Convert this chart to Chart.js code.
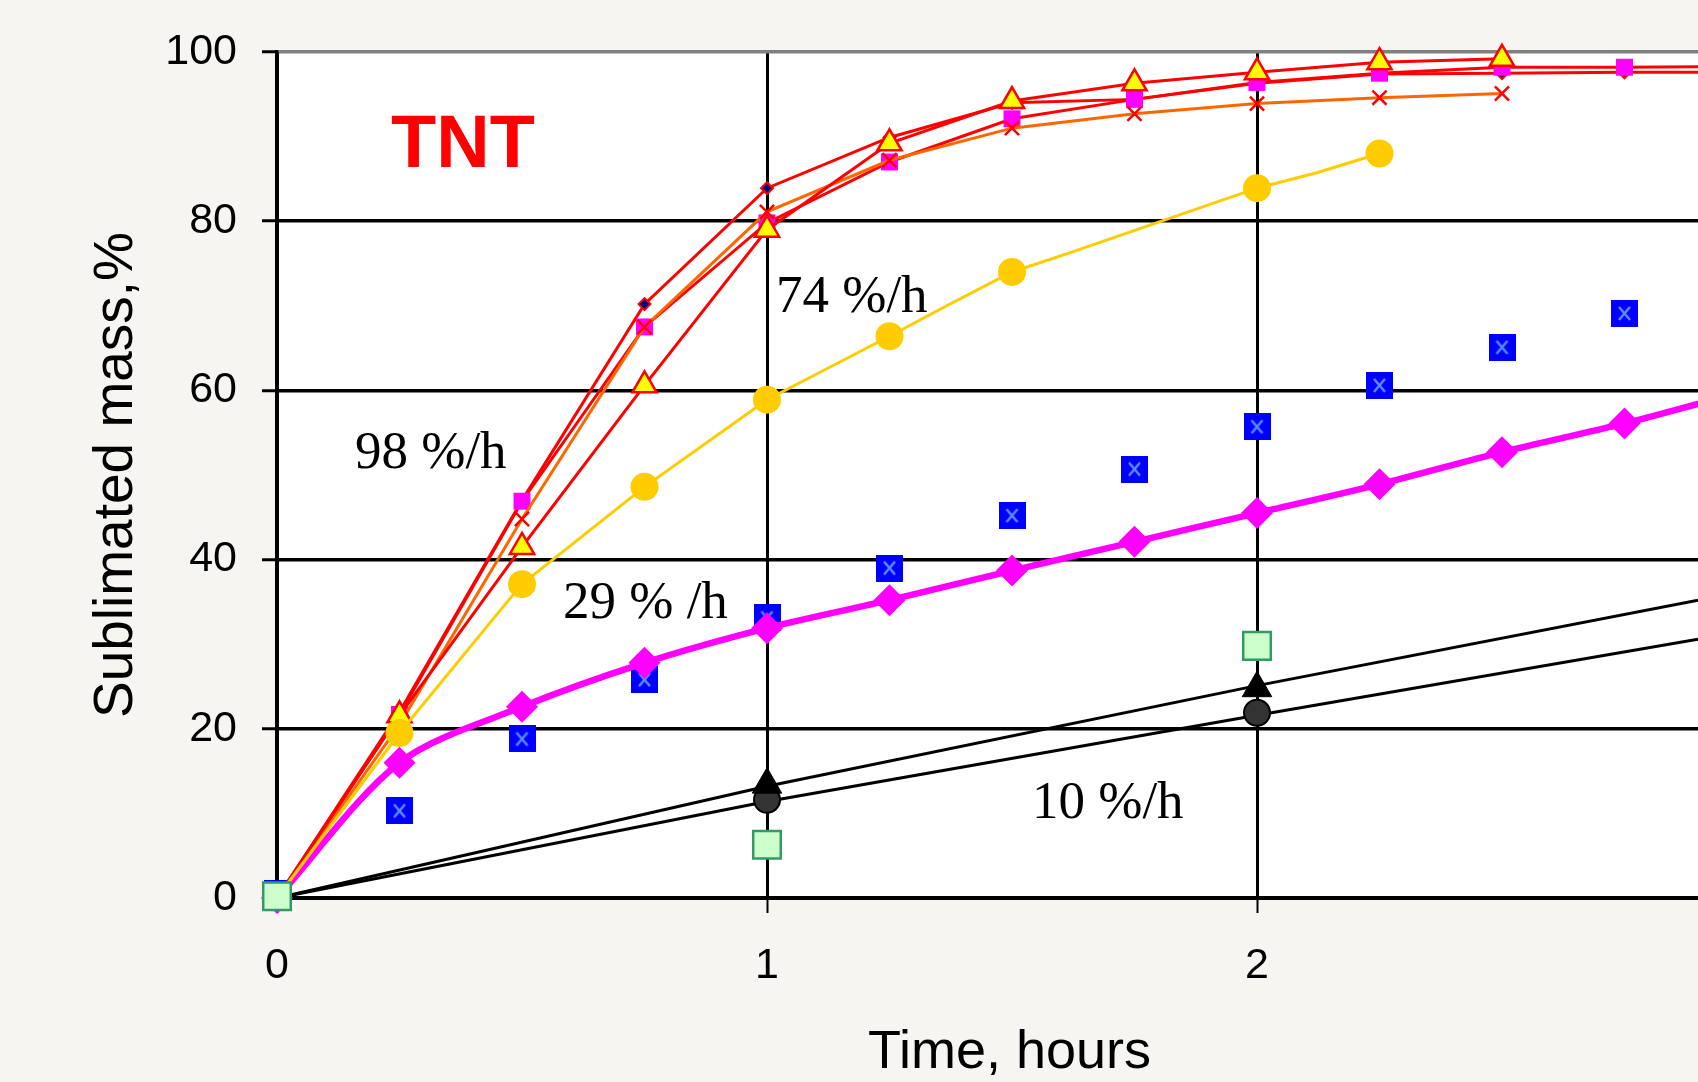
<!DOCTYPE html>
<html>
<head>
<meta charset="utf-8">
<script src="https://cdn.jsdelivr.net/npm/chart.js@4.4.0/dist/chart.umd.min.js"></script>
<style>
  html, body { margin: 0; padding: 0; background: #f6f5f1; }
  canvas { display: block; }
</style>
</head>
<body>
<canvas id="chart" width="1698" height="1082"></canvas>
<script>
// time axis (hours)
const quarterHours = [0, 0.25, 0.5, 0.75, 1, 1.25, 1.5, 1.75, 2, 2.25, 2.5, 2.75, 3];

// TNT runs, sublimated mass %
const tntDiamond  = [0, 22.0, 47.0, 70.2, 83.9, 89.9, 94.0, 94.4, 96.3, 97.4, 97.5, 97.6, 97.6];
const tntSquare   = [0, 21.7, 46.9, 67.5, 79.8, 87.0, 92.1, 94.4, 96.4, 97.5, 98.2, 98.2, 98.3];
const tntTriangle = [0, 21.6, 41.5, 60.6, 79.0, 89.2, 94.2, 96.3, 97.6, 98.8, 99.2];
const tntCross    = [0, 20.5, 44.8, 67.5, 81.1, 87.2, 91.0, 92.7, 93.9, 94.6, 95.1];

// 74 %/h run (line has a few extra points without markers)
const yellowTimes     = [0, 0.25, 0.44, 0.5, 0.75, 1, 1.25, 1.36, 1.5, 1.61, 2, 2.12, 2.25];
const yellowLine      = [0, 19.5, 32.9, 37.1, 48.6, 58.9, 66.4, 69.8, 74.0, 76.1, 83.9, 85.7, 88.0];
const yellowMarkTimes = [0.25, 0.5, 0.75, 1, 1.25, 1.5, 2, 2.25];
const yellowMarks     = [19.5, 37.1, 48.6, 58.9, 66.4, 74.0, 83.9, 88.0];

// 29 %/h runs
const magentaDiamond = [0, 16.0, 22.6, 27.8, 31.9, 35.2, 38.7, 42.1, 45.5, 48.9, 52.7, 56.1, 60.0];
const blueSquare     = [0.5, 10.3, 18.8, 25.8, 33.1, 39.0, 45.2, 50.7, 55.7, 60.6, 65.1, 69.1];

// 10 %/h runs
const slowTimes     = [1, 2];
const blackTriangle = [13.4, 24.8];
const greyCircle    = [11.6, 21.9];
const greenTimes    = [0, 1, 2];
const greenSquare   = [0.2, 6.3, 29.8];
const trendTimes    = [0, 1, 2, 2.9];
const trendUpper    = [0, 13.2, 25.1, 35.2];
const trendLower    = [0, 11.4, 21.6, 30.6];

const xTicks = [0, 1, 2];
const yTicks = [0, 20, 40, 60, 80, 100];

const SANS = "'Liberation Sans', Arial, sans-serif";
const SERIF = "'Liberation Serif', 'Times New Roman', serif";

const pts = (times, vals) => vals.map((v, i) => ({ x: times[i], y: v }));

// blue square with a light x inside
function blueMarker() {
    const c = document.createElement('canvas');
    c.width = 27; c.height = 27;
    const g = c.getContext('2d');
    g.fillStyle = '#0000ff';
    g.fillRect(0, 0, 27, 27);
    g.strokeStyle = '#5a8cff';
    g.lineWidth = 2.5;
    g.beginPath();
    g.moveTo(8, 7); g.lineTo(19, 20);
    g.moveTo(19, 7); g.lineTo(8, 20);
    g.stroke();
    return c;
}

const background = {
    id: 'background',
    beforeDraw(chart) {
        const { ctx, chartArea: a } = chart;
        ctx.save();
        ctx.fillStyle = '#f6f5f1';
        ctx.fillRect(0, 0, chart.width, chart.height);
        ctx.fillStyle = '#ffffff';
        ctx.fillRect(a.left, a.top, a.right - a.left, a.bottom - a.top);
        ctx.restore();
    }
};

const labels = {
    id: 'labels',
    afterDraw(chart) {
        const ctx = chart.ctx;
        ctx.save();
        ctx.textAlign = 'left';
        ctx.textBaseline = 'alphabetic';
        ctx.fillStyle = '#ff0000';
        ctx.font = 'bold 74px ' + SANS;
        ctx.fillText('TNT', 391, 167);
        ctx.fillStyle = '#000000';
        ctx.font = '53px ' + SERIF;
        ctx.fillText('98 %/h', 355, 468);
        ctx.fillText('74 %/h', 776, 312);
        ctx.fillText('29 % /h', 563, 618);
        ctx.fillText('10 %/h', 1032, 818);
        ctx.font = '54px ' + SANS;
        ctx.fillText('Time, hours', 868, 1068);
        ctx.restore();
    }
};

const lineSet = (data, color, width, extra) => Object.assign({
    data: data,
    borderColor: color,
    borderWidth: width,
    backgroundColor: color,
    pointRadius: 0,
    tension: 0,
    fill: false,
    clip: false
}, extra || {});

const markSet = (data, extra) => Object.assign({
    data: data,
    showLine: false,
    pointBorderWidth: 0,
    clip: false
}, extra);

new Chart(document.getElementById('chart'), {
    type: 'line',
    data: {
        datasets: [
            markSet(pts(greenTimes, greenSquare), {
                order: 0, pointStyle: 'rect', pointRadius: 19.5,
                pointBackgroundColor: '#ccffcc', pointBorderColor: '#339966', pointBorderWidth: 2.5
            }),
            markSet(pts(slowTimes, blackTriangle), {
                order: 1, pointStyle: 'triangle', pointRadius: 17,
                pointBackgroundColor: '#000000', pointBorderColor: '#000000', pointBorderWidth: 1
            }),
            markSet(pts(slowTimes, greyCircle), {
                order: 2, pointStyle: 'circle', pointRadius: 13,
                pointBackgroundColor: '#333333', pointBorderColor: '#000000', pointBorderWidth: 2
            }),
            lineSet(pts(trendTimes, trendUpper), '#000000', 3, { order: 3 }),
            lineSet(pts(trendTimes, trendLower), '#000000', 3, { order: 3 }),
            markSet(pts(yellowMarkTimes, yellowMarks), {
                order: 4, pointStyle: 'circle', pointRadius: 14,
                pointBackgroundColor: '#ffcc00'
            }),
            lineSet(pts(yellowTimes, yellowLine), '#ffcc00', 3, { order: 5 }),
            lineSet(pts(quarterHours, tntTriangle), '#ff0000', 3, {
                order: 6, pointStyle: 'triangle', pointRadius: 14,
                pointBackgroundColor: '#ffff00', pointBorderColor: '#ff0000', pointBorderWidth: 2.5
            }),
            lineSet(pts(quarterHours, tntCross), '#ff6600', 3, {
                order: 7, pointStyle: 'crossRot', pointRadius: 10,
                pointBorderColor: '#ff0000', pointBorderWidth: 2.5
            }),
            lineSet(pts(quarterHours, tntSquare), '#ff0000', 3, {
                order: 8, pointStyle: 'rect', pointRadius: 12,
                pointBackgroundColor: '#ff00ff', pointBorderWidth: 0
            }),
            lineSet(pts(quarterHours, tntDiamond), '#ff0000', 3, {
                order: 9, pointStyle: 'rectRot', pointRadius: 6,
                pointBackgroundColor: '#000080', pointBorderColor: '#ff0000', pointBorderWidth: 2
            }),
            lineSet(pts(quarterHours, magentaDiamond), '#ff00ff', 6.5, {
                order: 10, tension: 0.3, pointStyle: 'rectRot', pointRadius: 16,
                pointBackgroundColor: '#ff00ff', pointBorderWidth: 0
            }),
            markSet(pts(quarterHours, blueSquare), {
                order: 11, pointStyle: blueMarker(), pointRadius: 14
            })
        ]
    },
    options: {
        responsive: false,
        animation: false,
        events: [],
        layout: { autoPadding: false, padding: { top: 52, right: 0, bottom: 0, left: 0 } },
        plugins: {
            legend: { display: false },
            tooltip: { enabled: false }
        },
        scales: {
            x: {
                type: 'linear',
                min: 0,
                max: 2.9,
                afterFit: s => { s.height = 184; s.paddingLeft = 0; s.paddingRight = 0; },
                afterBuildTicks: s => { s.ticks = xTicks.map(v => ({ value: v })); },
                ticks: {
                    includeBounds: false,
                    stepSize: 1,
                    padding: 27,
                    color: '#000',
                    font: { family: SANS, size: 43 }
                },
                grid: { color: '#000', lineWidth: 3, tickLength: 15, tickWidth: 2, tickColor: '#000' },
                border: { color: '#000', width: 3 }
            },
            y: {
                min: 0,
                max: 100,
                afterFit: s => { s.width = 277; s.paddingTop = 0; s.paddingBottom = 0; },
                afterBuildTicks: s => { s.ticks = yTicks.map(v => ({ value: v })); },
                ticks: {
                    padding: 25,
                    color: '#000',
                    font: { family: SANS, size: 43 }
                },
                grid: {
                    color: c => (c.tick && c.tick.value === 100) ? '#808080' : '#000',
                    lineWidth: 3.5, tickLength: 15, tickWidth: 3, tickColor: '#000'
                },
                border: { color: '#000', width: 3.5 },
                title: {
                    display: true,
                    text: 'Sublimated mass,%',
                    color: '#000',
                    font: { family: SANS, size: 55 },
                    padding: { top: 84, bottom: 0 }
                }
            }
        }
    },
    plugins: [background, labels]
});
</script>
</body>
</html>
